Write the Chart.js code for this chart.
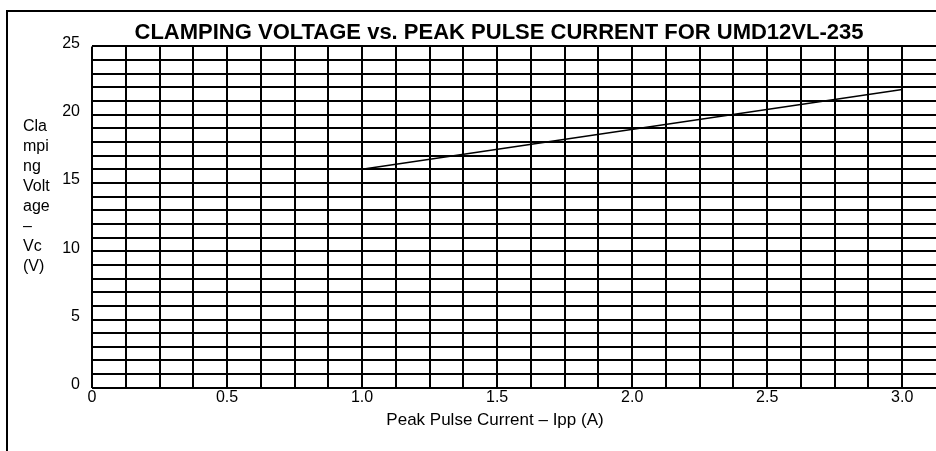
<!DOCTYPE html>
<html>
<head>
<meta charset="utf-8">
<script src="https://cdn.jsdelivr.net/npm/chart.js@4.4.1/dist/chart.umd.min.js"></script>
<style>
html, body {
    margin: 0;
    padding: 0;
    width: 936px;
    height: 451px;
    overflow: hidden;
    background: #fff;
}
.frame {
    position: absolute;
    left: 6px;
    top: 10px;
    right: -10px;
    bottom: -10px;
    border-left: 2px solid #000;
    border-top: 2px solid #000;
}
.wrap {
    position: absolute;
    left: 0;
    top: 0;
    width: 936px;
    height: 451px;
}
</style>
</head>
<body>
<div class="frame"></div>
<div class="wrap"><canvas id="chart" width="936" height="451"></canvas></div>

<script>
// ===============================
// DATI
// ===============================
const currentA = [1.0, 3.0];
const clampV = [16.0, 21.85];

const xTickLabels = ["0", "0.5", "1.0", "1.5", "2.0", "2.5", "3.0"];
const yTickLabels = ["0", "5", "10", "15", "20", "25"];
const yTitleLines = ["Cla", "mpi", "ng", "Volt", "age", "\u2013", "Vc", "(V)"];

const chartTitle = "CLAMPING VOLTAGE vs. PEAK PULSE CURRENT FOR UMD12VL-235";
const xTitle = "Peak Pulse Current \u2013 Ipp (A)";

const FONT = "'Liberation Sans', Arial, sans-serif";

// ===============================
// TITOLI ASSI (testo orizzontale)
// ===============================
const axisTitles = {
    id: "axisTitles",
    afterDraw(chart) {
        const ctx = chart.ctx;
        ctx.save();
        ctx.fillStyle = "#000";
        ctx.font = "16px " + FONT;
        ctx.textAlign = "left";
        ctx.textBaseline = "alphabetic";
        yTitleLines.forEach((t, i) => ctx.fillText(t, 23, 131 + i * 20));

        ctx.font = "17px " + FONT;
        ctx.textAlign = "center";
        ctx.textBaseline = "middle";
        ctx.fillText(xTitle, 495, 420);
        ctx.restore();
    }
};

const points = currentA.map((x, i) => ({ x, y: clampV[i] }));

new Chart(document.getElementById("chart"), {
    type: "line",
    data: {
        datasets: [{
            data: points,
            borderColor: "#000",
            borderWidth: 1.5,
            pointRadius: 0,
            tension: 0
        }]
    },
    options: {
        responsive: false,
        animation: false,
        layout: {
            padding: { left: 62, right: 0, top: 0, bottom: 44 }
        },
        plugins: {
            legend: { display: false },
            tooltip: { enabled: false },
            title: {
                display: true,
                text: chartTitle,
                color: "#000",
                font: { family: FONT, size: 22, weight: "bold" },
                padding: { top: 20, bottom: 0 }
            }
        },
        scales: {
            x: {
                type: "linear",
                min: 0,
                max: 3.125,
                border: { display: false },
                grid: {
                    color: c => (c.tick && c.tick.value > 3.01 ? "rgba(0,0,0,0)" : "#000"),
                    lineWidth: 2,
                    drawTicks: false
                },
                ticks: {
                    stepSize: 0.125,
                    autoSkip: false,
                    maxRotation: 0,
                    padding: 0,
                    color: "#000",
                    font: { family: FONT, size: 16 },
                    callback: v => {
                        const k = v / 0.5;
                        return Number.isInteger(k) ? (xTickLabels[k] || "") : "";
                    }
                }
            },
            y: {
                min: 0,
                max: 25,
                border: { display: false },
                afterFit: s => { s.width = 30; },
                grid: {
                    color: "#000",
                    lineWidth: 2,
                    drawTicks: false
                },
                ticks: {
                    stepSize: 1,
                    autoSkip: false,
                    padding: 12,
                    labelOffset: -3,
                    color: "#000",
                    font: { family: FONT, size: 16 },
                    callback: v => (v % 5 === 0 ? yTickLabels[v / 5] : "")
                }
            }
        }
    },
    plugins: [axisTitles]
});
</script>
</body>
</html>
